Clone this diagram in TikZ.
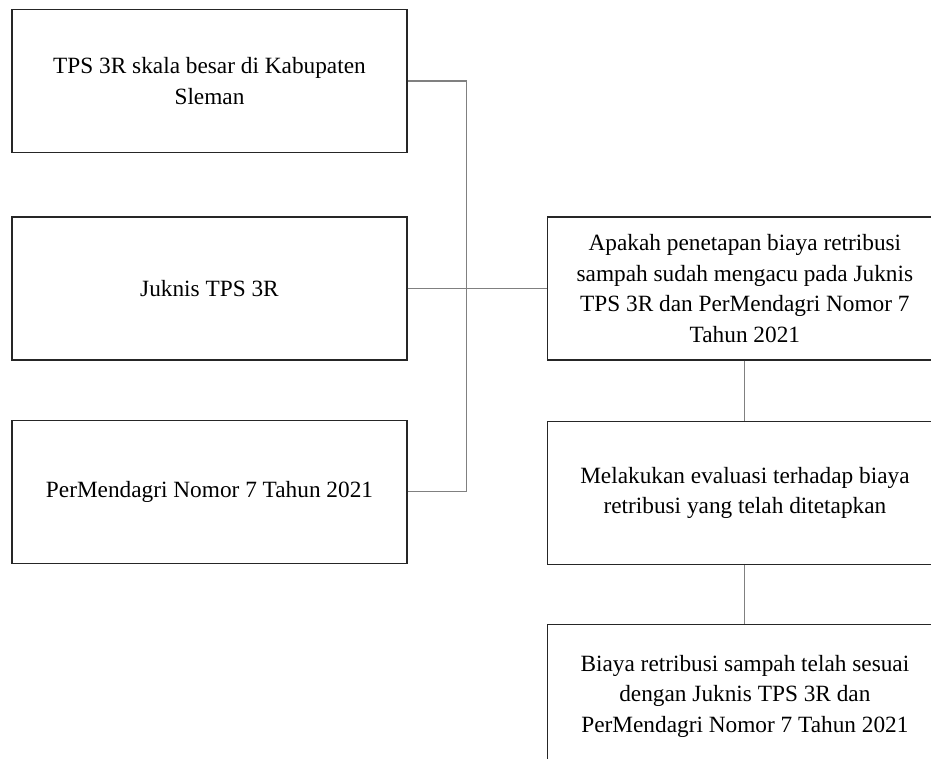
\documentclass[tikz,border=0pt]{standalone}
\usepackage{fontspec}
\setmainfont{Liberation Serif}
\usepackage{xcolor}
\usetikzlibrary{positioning}

\begin{document}
\begin{tikzpicture}[x=1pt,y=-1pt,
    box/.style={draw=black!85,line width=1.4pt,minimum width=395pt,minimum height=143pt,
        align=center,inner sep=0pt,font={\fontsize{23.3}{30.5}\selectfont}},
    link/.style={draw=black!50,line width=1.1pt}]
                \useasboundingbox (0,0) rectangle (931,758);
                \clip (0,0) rectangle (931,758);
                \node[box] (tps) at (209.5,81) {TPS 3R skala besar di Kabupaten\\Sleman};
                \node[box,below=63pt of tps] (juknis) {Juknis TPS 3R};
                \node[box,below=59pt of juknis] (permen) {PerMendagri Nomor 7 Tahun 2021};
                \node[box,right=139pt of juknis] (tanya) {Apakah penetapan biaya retribusi\\sampah sudah mengacu pada Juknis\\TPS 3R dan PerMendagri Nomor 7\\Tahun 2021};
                \node[box,below=60pt of tanya] (evaluasi) {Melakukan evaluasi terhadap biaya\\retribusi yang telah ditetapkan};
                \node[box,below=59pt of evaluasi] (hasil) {Biaya retribusi sampah telah sesuai\\dengan Juknis TPS 3R dan\\PerMendagri Nomor 7 Tahun 2021};
                \draw[link] (tps.east) -- ++(59,0) coordinate (bus) |- (permen.east);
                \draw[link] (juknis.east) -- (tanya.west);
                \draw[link] (tanya) -- (evaluasi);
                \draw[link] (evaluasi) -- (hasil);
            \end{tikzpicture}
\end{document}
